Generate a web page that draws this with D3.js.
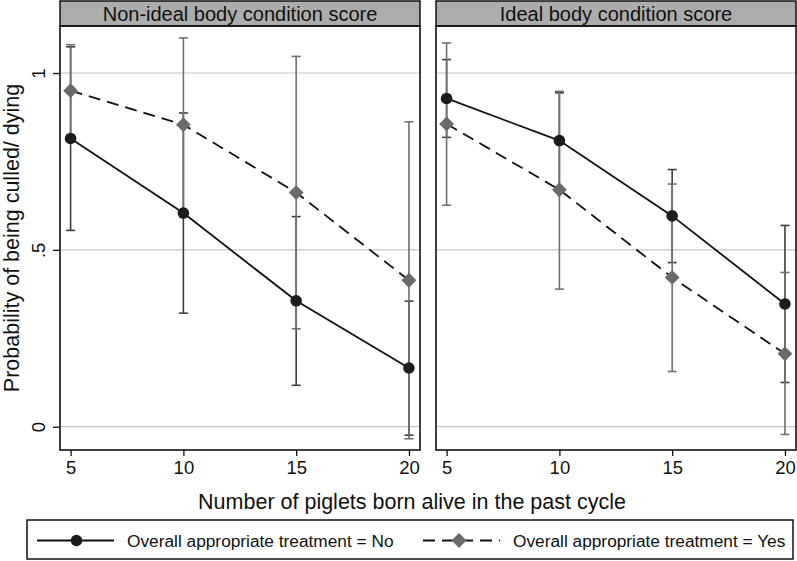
<!DOCTYPE html>
<html>
<head>
<meta charset="utf-8">
<script src="https://cdn.jsdelivr.net/npm/d3@7"></script>
<style>
  body { margin: 0; background: #fff; }
  svg { display: block; font-family: "Liberation Sans", Arial, sans-serif; }
</style>
</head>
<body>
<div id="chart"></div>
<script>
// x categories: piglets born alive
var piglets = [5, 10, 15, 20];
var panelTitles = ["Non-ideal body condition score", "Ideal body condition score"];
var yTicks = [0, 0.5, 1];
var yTickLabels = ["0", ".5", "1"];
var seriesNames = ["Overall appropriate treatment = No", "Overall appropriate treatment = Yes"];

// Non-ideal panel
var nonIdealNo = [0.815, 0.604, 0.356, 0.166];
var nonIdealNoLo = [0.555, 0.321, 0.117, -0.024];
var nonIdealNoHi = [1.074, 0.887, 0.594, 0.355];
var nonIdealYes = [0.950, 0.854, 0.662, 0.414];
var nonIdealYesLo = [0.820, 0.609, 0.277, -0.034];
var nonIdealYesHi = [1.080, 1.099, 1.047, 0.862];

// Ideal panel
var idealNo = [0.928, 0.809, 0.596, 0.347];
var idealNoLo = [0.818, 0.674, 0.464, 0.125];
var idealNoHi = [1.038, 0.944, 0.727, 0.569];
var idealYes = [0.856, 0.670, 0.422, 0.206];
var idealYesLo = [0.626, 0.389, 0.156, -0.022];
var idealYesHi = [1.085, 0.948, 0.686, 0.436];

var W = 797, H = 561;
var svg = d3.select("#chart").append("svg").attr("width", W).attr("height", H);

var panelLeft = [60, 436], panelW = 360;
var stripTop = 1, stripBottom = 26, plotBottom = 450;
var FONT = "Liberation Sans, Arial, sans-serif";

var y = d3.scaleLinear().domain([0, 1]).range([426.7, 73]);

function series(vals, lo, hi) {
    return vals.map(function(v, i) { return {x: piglets[i], y: v, lo: lo[i], hi: hi[i]}; });
}
var panels = [
    {title: panelTitles[0], no: series(nonIdealNo, nonIdealNoLo, nonIdealNoHi), yes: series(nonIdealYes, nonIdealYesLo, nonIdealYesHi)},
    {title: panelTitles[1], no: series(idealNo, idealNoLo, idealNoHi), yes: series(idealYes, idealYesLo, idealYesHi)}
];

var noCol = "#1c1c1c", noBar = "#3e3e3e", yesCol = "#6a6a6a", yesBar = "#707070";
var diamond = d3.symbol().type(d3.symbolDiamond2).size(140);

panels.forEach(function(p, pi) {
    var x0 = panelLeft[pi];
    var x = d3.scaleLinear().domain([4.53, 20.49]).range([x0, x0 + panelW]);
    var g = svg.append("g");

    // strip header
    g.append("rect").attr("x", x0).attr("y", stripTop).attr("width", panelW).attr("height", stripBottom - stripTop)
        .attr("fill", "#acacac").attr("stroke", "#111").attr("stroke-width", 1.5);
    g.append("text").attr("x", x0 + panelW / 2).attr("y", 20.5).attr("text-anchor", "middle")
        .attr("font-size", 20).attr("fill", "#111").text(p.title);

    // gridlines
    g.selectAll("line.grid").data(yTicks).enter().append("line")
        .attr("x1", x0).attr("x2", x0 + panelW)
        .attr("y1", function(d) { return y(d); }).attr("y2", function(d) { return y(d); })
        .attr("stroke", "#c4c4c4").attr("stroke-width", 1.2);

    // x axis
    var xAxis = d3.axisBottom(x).tickValues(piglets).tickSize(6).tickPadding(5);
    var ax = g.append("g").attr("transform", "translate(0," + plotBottom + ")").call(xAxis)
        .attr("font-size", 18.5).attr("font-family", FONT);
    ax.select(".domain").remove();
    ax.selectAll("line").attr("stroke", "#111").attr("stroke-width", 1.3);
    ax.selectAll("text").attr("fill", "#111");

    if (pi === 0) {
        var yAxis = d3.axisLeft(y).tickValues(yTicks).tickSize(7).tickFormat(function(d, i) { return yTickLabels[i]; });
        var ay = g.append("g").attr("transform", "translate(" + x0 + ",0)").call(yAxis)
            .attr("font-size", 18.5).attr("font-family", FONT);
        ay.select(".domain").remove();
        ay.selectAll("line").attr("stroke", "#111").attr("stroke-width", 1.3);
        ay.selectAll("text").attr("fill", "#111")
            .attr("text-anchor", "middle").attr("x", null).attr("dy", null)
            .attr("transform", "translate(-15,0) rotate(-90)");
    }

    // error bars
    function bars(data, col) {
        var b = g.append("g").attr("stroke", col).attr("stroke-width", 1.6).attr("fill", "none");
        data.forEach(function(d) {
            var cx = x(d.x);
            b.append("line").attr("x1", cx).attr("x2", cx).attr("y1", y(d.lo)).attr("y2", y(d.hi));
            b.append("line").attr("x1", cx - 4.5).attr("x2", cx + 4.5).attr("y1", y(d.lo)).attr("y2", y(d.lo));
            b.append("line").attr("x1", cx - 4.5).attr("x2", cx + 4.5).attr("y1", y(d.hi)).attr("y2", y(d.hi));
        });
    }
    bars(p.no, noBar);
    bars(p.yes, yesBar);

    var line = d3.line().x(function(d) { return x(d.x); }).y(function(d) { return y(d.y); });
    g.append("path").datum(p.no).attr("d", line).attr("fill", "none").attr("stroke", "#111").attr("stroke-width", 1.8);
    g.append("path").datum(p.yes).attr("d", line).attr("fill", "none").attr("stroke", "#111")
        .attr("stroke-width", 1.8).attr("stroke-dasharray", "12,7");

    g.selectAll("circle.no").data(p.no).enter().append("circle")
        .attr("cx", function(d) { return x(d.x); }).attr("cy", function(d) { return y(d.y); })
        .attr("r", 5.8).attr("fill", noCol);
    g.selectAll("path.yes").data(p.yes).enter().append("path")
        .attr("d", diamond)
        .attr("transform", function(d) { return "translate(" + x(d.x) + "," + y(d.y) + ")"; })
        .attr("fill", yesCol);

    // plot border
    g.append("rect").attr("x", x0).attr("y", stripBottom).attr("width", panelW).attr("height", plotBottom - stripBottom)
        .attr("fill", "none").attr("stroke", "#111").attr("stroke-width", 1.6);
});

// axis titles
svg.append("text").attr("x", 412).attr("y", 509).attr("text-anchor", "middle")
    .attr("font-size", 21.5).attr("fill", "#111").text("Number of piglets born alive in the past cycle");
svg.append("text").attr("transform", "translate(19,238) rotate(-90)").attr("text-anchor", "middle")
    .attr("font-size", 21.5).attr("fill", "#111").text("Probability of being culled/ dying");

// legend
var lg = svg.append("g");
lg.append("rect").attr("x", 27).attr("y", 520).attr("width", 766).attr("height", 39)
    .attr("fill", "#fff").attr("stroke", "#111").attr("stroke-width", 1.5);
var ly = 540.5;
lg.append("line").attr("x1", 37).attr("x2", 114).attr("y1", ly).attr("y2", ly).attr("stroke", "#111").attr("stroke-width", 1.8);
lg.append("circle").attr("cx", 76.5).attr("cy", ly).attr("r", 5.8).attr("fill", noCol);
lg.append("text").attr("x", 127).attr("y", ly + 6).attr("font-size", 17.3).attr("fill", "#111").text(seriesNames[0]);
lg.append("line").attr("x1", 423).attr("x2", 500).attr("y1", ly).attr("y2", ly).attr("stroke", "#111")
    .attr("stroke-width", 1.8).attr("stroke-dasharray", "12,7");
lg.append("path").attr("d", diamond).attr("transform", "translate(459," + ly + ")").attr("fill", yesCol);
lg.append("text").attr("x", 513).attr("y", ly + 6).attr("font-size", 17.3).attr("fill", "#111").text(seriesNames[1]);
</script>
</body>
</html>
